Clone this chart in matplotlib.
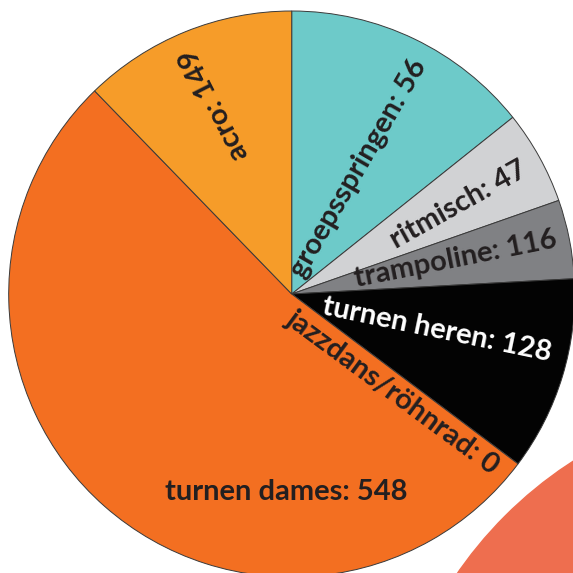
import numpy as np
import matplotlib.pyplot as plt
from matplotlib.patches import Circle

# Data
categories = ["groepsspringen", "ritmisch", "trampoline", "turnen heren",
              "jazzdans/röhnrad", "turnen dames", "acro"]
counts = [56, 47, 116, 128, 0, 548, 149]
# slice sizes as drawn in the picture, clockwise from 12 o'clock
# (the picture's slices are not in the same order as the labels)
slice_values = [149, 56, 47, 116, 0, 548, 128]

slice_colors = ["#6dcac9", "#d1d2d4", "#808184", "#030303",
                "#f36f21", "#f36f21", "#f69c29"]
text_colors = ["#231f20", "#231f20", "#231f20", "white",
               "#231f20", "#231f20", "#231f20"]

# label layout: nudges (deg) from the wedge mid angle, radius as fraction of R
rot_nudge = [-4.3, 0.2, 0.0, 5.2, 0.5, 0.0, 4.8]
pos_nudge = [-3.2, -0.5, 0.4, 3.9, -3.6, 0.0, 1.2]
pos_radius = [0.94, 0.936, 0.954, 0.94, 0.95, 0.70, 0.94]
FS = 21

W = 573
fig = plt.figure(figsize=(W / 100, W / 100), dpi=100)
ax = fig.add_axes([0, 0, 1, 1])
ax.axis("off")

# orange backdrop shape in the lower right corner
ax.add_patch(Circle((795, -233), 410, color="#ee6e4f", zorder=0))

cx, cy, R = 291.7, W - 294, 283
wedges, _ = ax.pie(slice_values, colors=slice_colors, startangle=90,
                   counterclock=False, center=(cx, cy), radius=R,
                   wedgeprops=dict(edgecolor="#3a3a3a", linewidth=0.7))
ax.set_xlim(0, W)
ax.set_ylim(0, W)
ax.set_aspect("equal")

for i, w in enumerate(wedges):
    label = f"{categories[i]}: {counts[i]}"
    mid = (w.theta1 + w.theta2) / 2
    if w.theta2 - w.theta1 > 180:
        # big slice: horizontal label near the bottom
        a = np.deg2rad(268.5)
        x, y = cx + pos_radius[i] * R * np.cos(a), cy + pos_radius[i] * R * np.sin(a)
        ax.text(x, y, label, ha="center", va="center", fontsize=FS,
                fontweight="bold", family="Lato", color=text_colors[i])
        continue
    a = np.deg2rad(mid + pos_nudge[i])
    rot = mid + rot_nudge[i]
    x, y = cx + pos_radius[i] * R * np.cos(a), cy + pos_radius[i] * R * np.sin(a)
    ax.text(x, y, label, ha="right", va="center", rotation=rot,
            rotation_mode="anchor", fontsize=FS, fontweight="bold",
            family="Lato", color=text_colors[i])

plt.savefig("out.png", dpi=100, facecolor="white")
